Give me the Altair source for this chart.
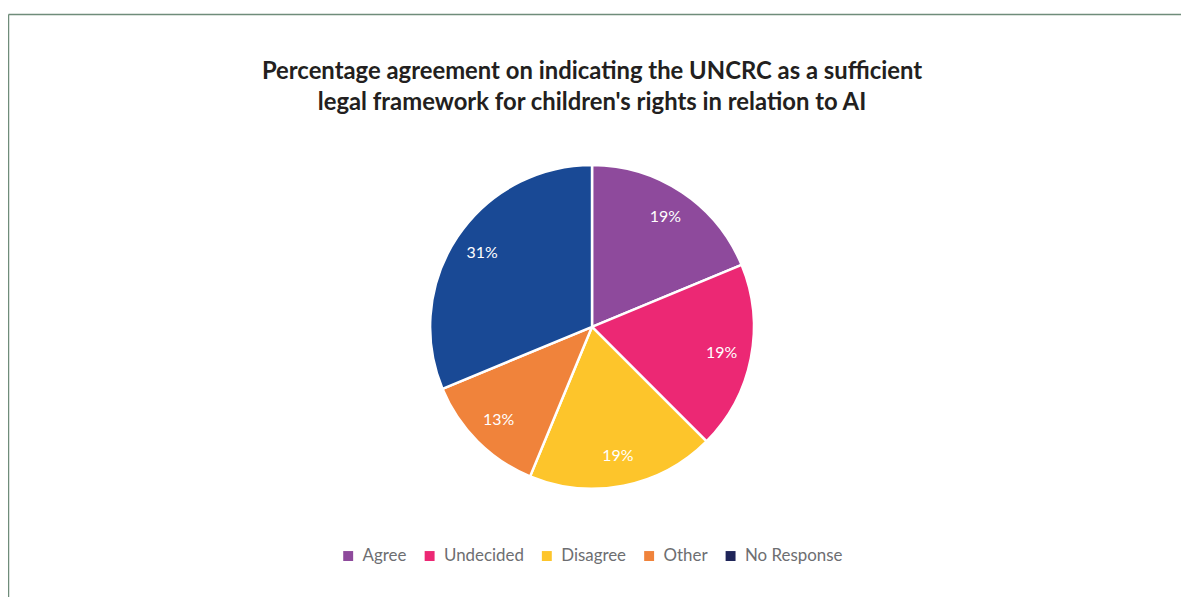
import altair as alt
import pandas as pd

categories = ["Agree", "Undecided", "Disagree", "Other", "No Response"]
values = [18.75, 18.75, 18.75, 12.5, 31.25]
labels = ["19%", "19%", "19%", "13%", "31%"]
slice_colors = ["#8e4a9c", "#ec2874", "#fdc52b", "#f0833b", "#194995"]
legend_colors = ["#8e4a9c", "#ec2874", "#fdc52b", "#f0833b", "#1f2559"]

df = pd.DataFrame({
    "category": categories,
    "value": values,
    "label": labels,
    "order": list(range(len(categories))),
})

FRAME = "#6f8c7a"
VIEW_W, VIEW_H = 1168, 418
PAD_L, PAD_T = 4, 110

theta = alt.Theta("value:Q", stack=True)
order = alt.Order("order:Q")

base = alt.Chart(df)

legend_layer = base.mark_arc(radius=20).encode(
    theta=theta,
    order=order,
    color=alt.Color(
        "category:N",
        scale=alt.Scale(domain=categories, range=legend_colors),
        legend=alt.Legend(
            title=None,
            orient="none",
            legendX=330,
            legendY=431,
            direction="horizontal",
            symbolType="square",
            symbolSize=100,
            symbolStrokeWidth=0,
            labelFont="Lato",
            labelFontSize=17,
            labelColor="#6d6e71",
            labelOffset=6,
            columnPadding=14,
        ),
    ),
)

pie = base.mark_arc(radius=163, stroke="white", strokeWidth=2.5).encode(
    theta=theta,
    order=order,
    fill=alt.Fill(
        "category:N",
        scale=alt.Scale(domain=categories, range=slice_colors),
        legend=None,
    ),
)

text = base.mark_text(radius=133, font="Lato", fontSize=16, color="white").encode(
    theta=theta,
    order=order,
    text="label:N",
)

frame_data = alt.Data(values=[{"a": 1}])
left_rule = alt.Chart(frame_data).mark_rule(color=FRAME, strokeWidth=1.5).encode(
    x=alt.value(-3.5), y=alt.value(-105.5), y2=alt.value(VIEW_H + 200)
)
top_rule = alt.Chart(frame_data).mark_rule(color=FRAME, strokeWidth=1.5).encode(
    x=alt.value(-3.5), x2=alt.value(VIEW_W + 40), y=alt.value(-105.5)
)

chart = alt.layer(legend_layer, pie, text, left_rule, top_rule).properties(
    width=VIEW_W,
    height=VIEW_H,
    autosize=alt.AutoSizeParams(type="none"),
    padding={"left": PAD_L, "top": PAD_T, "right": 9, "bottom": 61},
    title=alt.Title(
        text=[
            "Percentage agreement on indicating the UNCRC as a sufficient",
            "legal framework for children's rights in relation to AI",
        ],
        font="Lato",
        fontSize=24,
        fontWeight="bold",
        color="#231f20",
        anchor="middle",
        frame="group",
        lineHeight=31,
        offset=0,
        dy=102,
    ),
).configure_view(stroke=None)

chart.save("out.html", embed_options={"renderer": "svg", "actions": False})
